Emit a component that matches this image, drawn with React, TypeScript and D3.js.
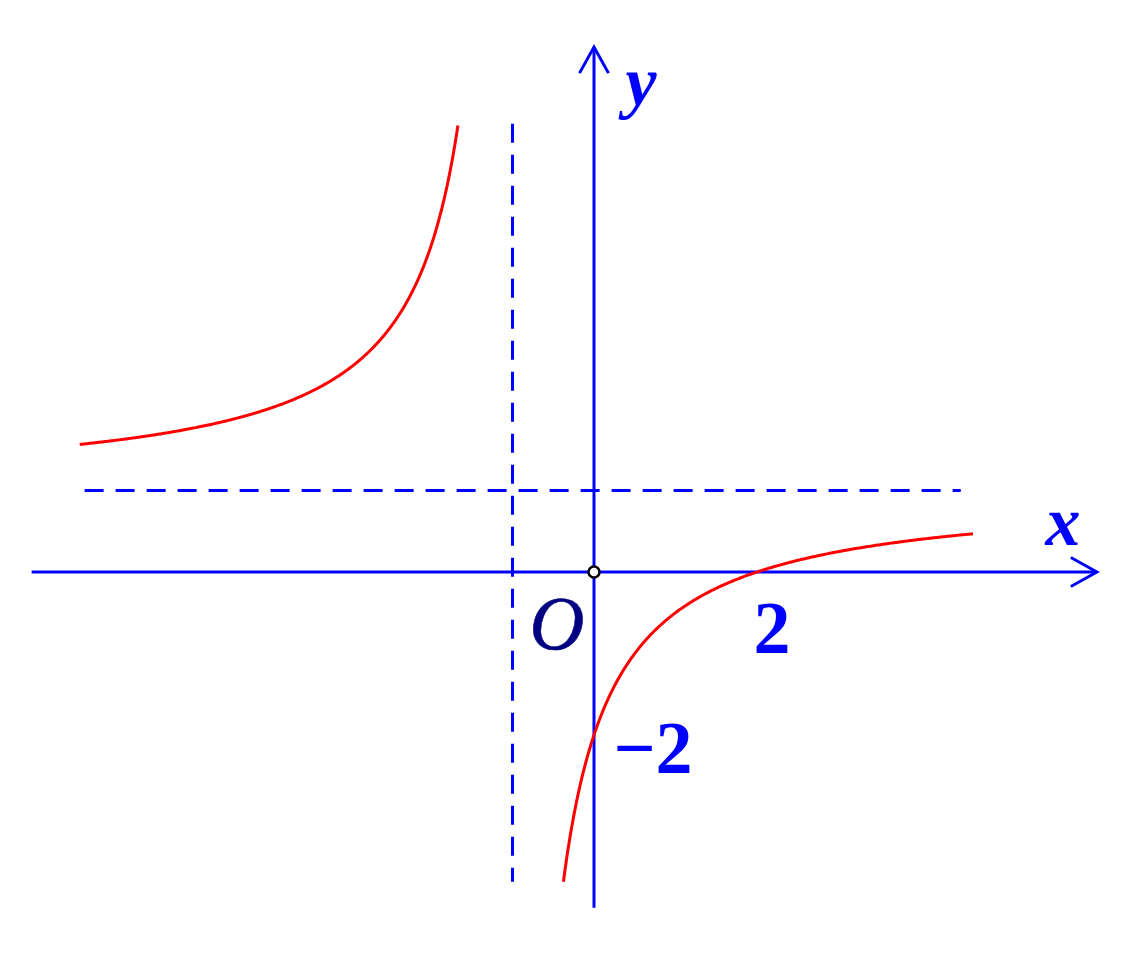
import React from "react";
import * as d3 from "d3";

// Function graph: y = (x - 2) / (x + 1)
const numerator = [1, -2]; // x - 2
const denominator = [1, 1]; // x + 1
const asymptoteX = -1;
const asymptoteY = 1;
const leftBranchDomain = [-6.31, -1.67];
const rightBranchDomain = [-0.375, 4.65];
const xAxisDomain = [-6.9, 6.17];
const yAxisDomain = [-4.12, 6.44];
const hDashDomain = [-6.25, 4.5];
const vDashDomain = [-3.8, 5.5];
const tickLabels = [
  { label: "2", x: 2, y: 0 },
  { label: "−2", x: 0, y: -2 },
];

const W = 1135;
const H = 970;
const unit = 81.5;
const ox = 594;
const oy = 572;

const xScale = d3.scaleLinear().domain([0, 1]).range([ox, ox + unit]);
const yScale = d3.scaleLinear().domain([0, 1]).range([oy, oy - unit]);

const f = (x: number) => (numerator[0] * x + numerator[1]) / (denominator[0] * x + denominator[1]);

function branch(domain: number[]) {
  const n = 300;
  const pts: [number, number][] = [];
  for (let i = 0; i <= n; i++) {
    const x = domain[0] + ((domain[1] - domain[0]) * i) / n;
    pts.push([x, f(x)]);
  }
  return pts;
}

const line = d3
  .line<[number, number]>()
  .x((d) => xScale(d[0]))
  .y((d) => yScale(d[1]))
  .curve(d3.curveLinear);

const BLUE = "#0000ff";
const RED = "#ff0000";

export default function App() {
  const xa0 = xScale(xAxisDomain[0]);
  const xa1 = xScale(xAxisDomain[1]);
  const ya0 = yScale(yAxisDomain[0]);
  const ya1 = yScale(yAxisDomain[1]);
  const y0 = yScale(0);
  const x0 = xScale(0);
  return (
    <svg
      width={W}
      height={H}
      style={{ position: "absolute", left: 0, top: 0, background: "#fff" }}
    >
      {/* dashed asymptotes */}
      <line
        x1={xScale(hDashDomain[0])}
        x2={xScale(hDashDomain[1])}
        y1={yScale(asymptoteY)}
        y2={yScale(asymptoteY)}
        stroke={BLUE}
        strokeWidth={3}
        strokeDasharray="19 12"
      />
      <line
        x1={xScale(asymptoteX)}
        x2={xScale(asymptoteX)}
        y1={yScale(vDashDomain[1])}
        y2={yScale(vDashDomain[0])}
        stroke={BLUE}
        strokeWidth={3}
        strokeDasharray="19 12"
      />
      {/* axes */}
      <line x1={xa0} x2={xa1} y1={y0} y2={y0} stroke={BLUE} strokeWidth={3} />
      <polyline
        points={`${xa1 - 26},${y0 - 14.5} ${xa1},${y0} ${xa1 - 26},${y0 + 14.5}`}
        fill="none"
        stroke={BLUE}
        strokeWidth={3}
      />
      <line x1={x0} x2={x0} y1={ya0} y2={ya1} stroke={BLUE} strokeWidth={3} />
      <polyline
        points={`${x0 - 14.5},${ya1 + 26} ${x0},${ya1} ${x0 + 14.5},${ya1 + 26}`}
        fill="none"
        stroke={BLUE}
        strokeWidth={3}
      />
      {/* curve */}
      <path d={line(branch(leftBranchDomain)) || ""} fill="none" stroke={RED} strokeWidth={3} />
      <path d={line(branch(rightBranchDomain)) || ""} fill="none" stroke={RED} strokeWidth={3} />
      {/* origin dot */}
      <circle cx={x0} cy={y0} r={5.5} fill="#fff" stroke="#000" strokeWidth={2.5} />
      {/* labels */}
      <g fontFamily="'Liberation Serif', 'Times New Roman', serif">
        <text x={641} y={105} fontSize={70} fontStyle="italic" fontWeight="bold" fill={BLUE} textAnchor="middle">
          y
        </text>
        <text x={1063} y={545} fontSize={70} fontStyle="italic" fontWeight="bold" fill={BLUE} textAnchor="middle">
          x
        </text>
        <text x={557} y={649} fontSize={76} fontStyle="italic" fill="#000080" textAnchor="middle" stroke="#000080" strokeWidth={0.6}>
          O
        </text>
        <text
          x={xScale(tickLabels[0].x) + 15}
          y={653}
          fontSize={74}
          fontWeight="bold"
          fill={BLUE}
          textAnchor="middle"
        >
          {tickLabels[0].label}
        </text>
        <text
          x={xScale(tickLabels[1].x) + 59}
          y={yScale(tickLabels[1].y) + 38}
          fontSize={74}
          fontWeight="bold"
          fill={BLUE}
          textAnchor="middle"
        >
          {tickLabels[1].label}
        </text>
      </g>
    </svg>
  );
}
